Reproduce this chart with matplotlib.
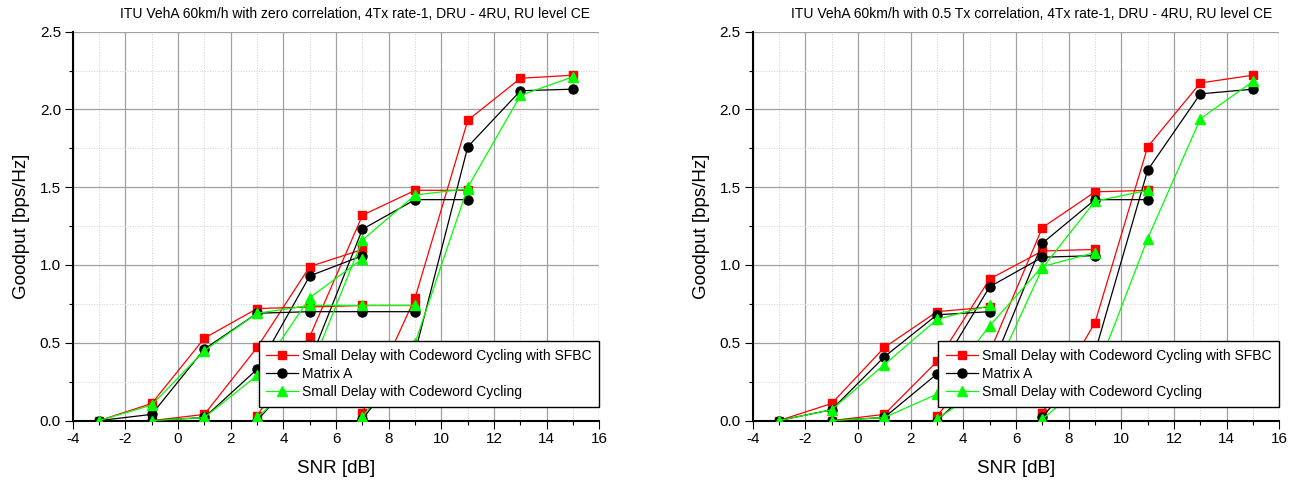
import matplotlib
matplotlib.use('Agg')
import matplotlib.pyplot as plt
from matplotlib.ticker import MultipleLocator

plt.rcParams['font.family'] = ['Liberation Sans', 'DejaVu Sans']
plt.rcParams['axes.unicode_minus'] = False

titles = ['ITU VehA 60km/h with zero correlation, 4Tx rate-1, DRU - 4RU, RU level CE',
          'ITU VehA 60km/h with 0.5 Tx correlation, 4Tx rate-1, DRU - 4RU, RU level CE']
labels = ['Small Delay with Codeword Cycling with SFBC', 'Matrix A', 'Small Delay with Codeword Cycling']

# zero correlation (left), one curve per MCS
snr_l1 = [-3, -1, 1, 3, 5, 7, 9]
snr_l2 = [-1, 1, 3, 5, 7]
snr_l3 = [3, 5, 7, 9, 11]
snr_l4 = [7, 9, 11, 13, 15]
sfbc_l1 = [0.0, 0.11, 0.53, 0.72, 0.73, 0.74, 0.74]
sfbc_l2 = [0.0, 0.04, 0.47, 0.99, 1.10]
sfbc_l3 = [0.03, 0.54, 1.32, 1.48, 1.48]
sfbc_l4 = [0.05, 0.79, 1.93, 2.20, 2.22]
mata_l1 = [0.0, 0.04, 0.46, 0.69, 0.70, 0.70, 0.70]
mata_l2 = [0.0, 0.02, 0.33, 0.93, 1.06]
mata_l3 = [0.0, 0.38, 1.23, 1.42, 1.42]
mata_l4 = [0.01, 0.44, 1.76, 2.12, 2.13]
cyc_l1 = [0.0, 0.10, 0.45, 0.69, 0.74, 0.74, 0.74]
cyc_l2 = [0.0, 0.02, 0.29, 0.79, 1.04]
cyc_l3 = [0.02, 0.32, 1.16, 1.45, 1.49]
cyc_l4 = [0.02, 0.50, 1.50, 2.09, 2.21]

# 0.5 Tx correlation (right)
snr_r1 = [-3, -1, 1, 3, 5]
snr_r2 = [-1, 1, 3, 5, 7, 9]
snr_r3 = [3, 5, 7, 9, 11]
snr_r4 = [7, 9, 11, 13, 15]
sfbc_r1 = [0.0, 0.11, 0.47, 0.70, 0.73]
sfbc_r2 = [0.0, 0.04, 0.38, 0.91, 1.09, 1.10]
sfbc_r3 = [0.03, 0.44, 1.24, 1.47, 1.48]
sfbc_r4 = [0.05, 0.63, 1.76, 2.17, 2.22]
mata_r1 = [0.0, 0.07, 0.41, 0.68, 0.70]
mata_r2 = [0.0, 0.02, 0.30, 0.86, 1.05, 1.06]
mata_r3 = [0.0, 0.31, 1.14, 1.42, 1.42]
mata_r4 = [0.02, 0.44, 1.61, 2.10, 2.13]
cyc_r1 = [0.0, 0.07, 0.36, 0.65, 0.74]
cyc_r2 = [0.0, 0.02, 0.17, 0.61, 0.99, 1.08]
cyc_r3 = [0.01, 0.24, 0.98, 1.41, 1.48]
cyc_r4 = [0.01, 0.29, 1.17, 1.94, 2.18]

panels = [
    ([snr_l1, snr_l2, snr_l3, snr_l4],
     [[sfbc_l1, sfbc_l2, sfbc_l3, sfbc_l4],
      [mata_l1, mata_l2, mata_l3, mata_l4],
      [cyc_l1, cyc_l2, cyc_l3, cyc_l4]]),
    ([snr_r1, snr_r2, snr_r3, snr_r4],
     [[sfbc_r1, sfbc_r2, sfbc_r3, sfbc_r4],
      [mata_r1, mata_r2, mata_r3, mata_r4],
      [cyc_r1, cyc_r2, cyc_r3, cyc_r4]]),
]
colors = ['#ff0000', '#000000', '#00ff00']
markers = ['s', 'o', '^']
msizes = [6, 6.5, 7]

fig = plt.figure(figsize=(12.99, 4.84), dpi=100)
ax_rects = [[0.056, 0.131, 0.4055, 0.8037], [0.5794, 0.131, 0.4055, 0.8037]]
title_x = [0.535, 0.53]

for k, (snrs, series) in enumerate(panels):
    ax = fig.add_axes(ax_rects[k])
    for s, segs in enumerate(series):
        for j, (x, y) in enumerate(zip(snrs, segs)):
            ax.plot(x, y, color=colors[s], marker=markers[s], markersize=msizes[s],
                    lw=0.9, label=labels[s] if j == 0 else None, zorder=3 + s)

    ax.set_xlim(-4, 16)
    ax.set_ylim(0, 2.5)
    ax.xaxis.set_major_locator(MultipleLocator(2))
    ax.xaxis.set_minor_locator(MultipleLocator(1))
    ax.yaxis.set_major_locator(MultipleLocator(0.5))
    ax.yaxis.set_minor_locator(MultipleLocator(0.25))
    ax.yaxis.set_major_formatter(matplotlib.ticker.FormatStrFormatter('%.1f'))

    ax.grid(True, which='major', color='#a0a0a0', lw=0.9, ls='-')
    ax.grid(True, which='minor', color='#d0d0d0', lw=0.7, ls=':')
    ax.set_axisbelow(True)
    # no grid line on the open top / right edges
    ax.xaxis.get_gridlines()[-1].set_visible(False)
    ax.yaxis.get_gridlines()[-1].set_visible(False)

    for side in ['top', 'right']:
        ax.spines[side].set_visible(False)
    for side in ['left', 'bottom']:
        ax.spines[side].set_linewidth(1.5)
    ax.tick_params(which='major', direction='out', length=5.5, width=0.8, labelsize=11, pad=3)
    ax.tick_params(which='minor', direction='out', length=3, width=0.8)

    ax.set_title(titles[k], fontsize=10, x=title_x[k], pad=10)
    ax.set_xlabel('SNR [dB]', fontsize=13.5, labelpad=10)
    ax.set_ylabel('Goodput [bps/Hz]', fontsize=13.5, labelpad=7)

    leg = ax.legend(loc='lower right', bbox_to_anchor=(1.0, 0.036), borderaxespad=0,
                    fontsize=10, handlelength=2.3, handletextpad=0.3, borderpad=0.55,
                    labelspacing=0.3, fancybox=False, framealpha=1, edgecolor='black',
                    numpoints=1)
    leg.get_frame().set_linewidth(1.0)
    leg.set_zorder(10)

fig.savefig('out.png', dpi=100)
